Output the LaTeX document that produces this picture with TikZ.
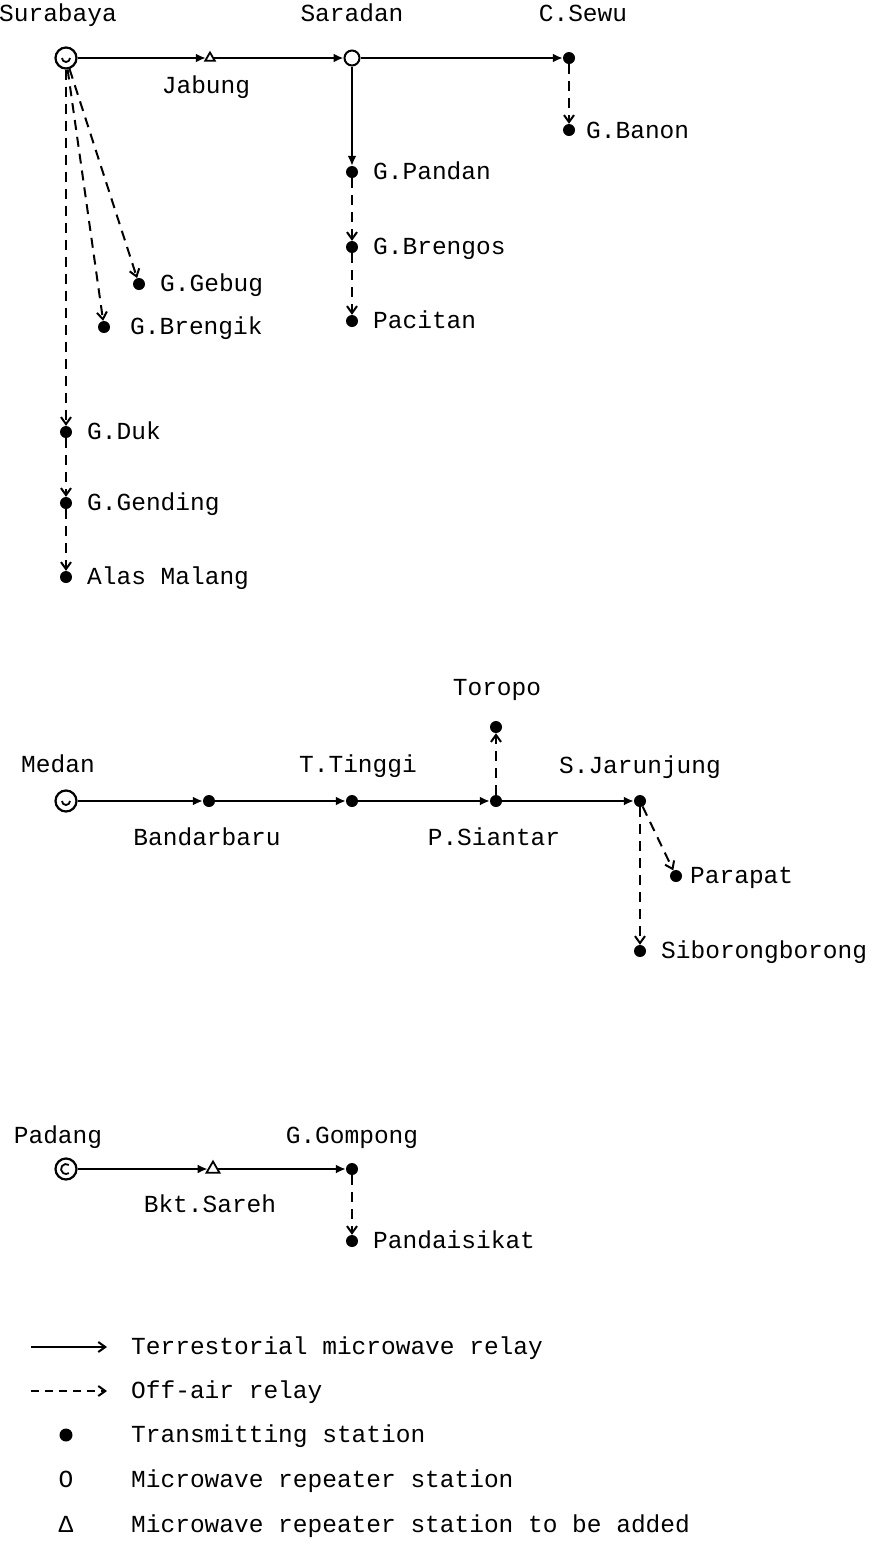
\documentclass[tikz,border=0pt]{standalone}
\usepackage{fontspec}
\setmonofont{Liberation Mono}
\usetikzlibrary{arrows.meta,shapes.geometric}
\begin{document}
\begin{tikzpicture}[x=1pt,y=-1pt,
  lbl/.style={font=\ttfamily\fontsize{24.5}{28}\selectfont, inner sep=0pt},
  lw/.style={lbl, anchor=base west},
  lc/.style={lbl, anchor=base},
  tx/.style={circle, fill=black, inner sep=0pt, minimum size=12pt},
  rep/.style={circle, draw, fill=white, line width=2pt, inner sep=0pt, minimum size=15pt},
  studio/.style={circle, draw, fill=white, line width=2.2pt, inner sep=0pt, minimum size=21pt},
  addrep/.style={regular polygon, regular polygon sides=3, draw, line width=1.8pt, inner sep=0pt, minimum size=15pt},
  mw/.style={line width=2pt, -{Latex[length=10pt,width=9pt]}},
  air/.style={line width=2pt, dash pattern=on 10pt off 7pt, -{Straight Barb[length=7pt,width=10pt,line width=2pt]}},
]
\useasboundingbox (0,0) rectangle (873,1551);

% ---------------- Surabaya network ----------------
\node[studio] (sur) at (66,58) {};
\draw[line width=1.8pt] (sur.center) ++(-4pt,0) arc[start angle=180,end angle=360,radius=4pt];
\node[addrep, minimum size=11pt] (jab) at (210,58) {};
\node[rep] (sar) at (352,58) {};
\node[tx] (cse) at (569,58) {};
\node[tx] (gba) at (569,130) {};
\node[tx] (gpa) at (352,172) {};
\node[tx] (gbr) at (352,247) {};
\node[tx] (pac) at (352,321) {};
\node[tx] (gge) at (139,284) {};
\node[tx] (gbk) at (104,327) {};
\node[tx] (gdu) at (66,432) {};
\node[tx] (gen) at (66,503) {};
\node[tx] (ala) at (66,577) {};

\node[lc] (lsur) at (58,21) {Surabaya};
\node[lc] (ljab) at (206,93) {Jabung};
\node[lc] (lsar) at (352,21) {Saradan};
\node[lc] (lcse) at (583,21) {C.Sewu};
\node[lw] (lgba) at (586,138) {G.Banon};
\node[lw] (lgpa) at (373,179) {G.Pandan};
\node[lw] (lgbr) at (373,254) {G.Brengos};
\node[lw] (lpac) at (373,328) {Pacitan};
\node[lw] (lgge) at (160,291) {G.Gebug};
\node[lw] (lgbk) at (130,334) {G.Brengik};
\node[lw] (lgdu) at (87,439) {G.Duk};
\node[lw] (lgen) at (87,510) {G.Gending};
\node[lw] (lala) at (87,584) {Alas Malang};

\draw[mw] (sur) -- (jab);
\draw[mw] (jab) -- (sar);
\draw[mw] (sar) -- (cse);
\draw[mw] (sar) -- (gpa);
\draw[air] (cse) -- (gba);
\draw[air] (gpa) -- (gbr);
\draw[air] (gbr) -- (pac);
\draw[air] (sur) -- (gge);
\draw[air] (sur) -- (gbk);
\draw[air] (sur) -- (gdu);
\draw[air] (gdu) -- (gen);
\draw[air] (gen) -- (ala);

% ---------------- Medan network ----------------
\node[studio] (med) at (66,801) {};
\draw[line width=1.8pt] (med.center) ++(-4pt,0) arc[start angle=180,end angle=360,radius=4pt];
\node[tx] (ban) at (209,801) {};
\node[tx] (tti) at (352,801) {};
\node[tx] (psi) at (496,801) {};
\node[tx] (tor) at (496,727) {};
\node[tx] (sja) at (640,801) {};
\node[tx] (par) at (676,876) {};
\node[tx] (sib) at (640,951) {};

\node[lc] (lmed) at (58,772) {Medan};
\node[lc] (lban) at (207,845) {Bandarbaru};
\node[lc] (ltti) at (358,772) {T.Tinggi};
\node[lc] (lpsi) at (494,845) {P.Siantar};
\node[lc] (ltor) at (497,695) {Toropo};
\node[lc] (lsja) at (640,773) {S.Jarunjung};
\node[lw] (lpar) at (690,883) {Parapat};
\node[lw] (lsib) at (661,958) {Siborongborong};

\draw[mw] (med) -- (ban);
\draw[mw] (ban) -- (tti);
\draw[mw] (tti) -- (psi);
\draw[mw] (psi) -- (sja);
\draw[air] (psi) -- (tor);
\draw[air] (sja) -- (par);
\draw[air] (sja) -- (sib);

% ---------------- Padang network ----------------
\node[studio] (pad) at (66,1169) {};
\draw[line width=1.8pt] (pad.center) ++(2.9pt,4.1pt) arc[start angle=55,end angle=305,radius=5pt];
\node[addrep] (bkt) at (213,1169) {};
\node[tx] (ggo) at (352,1169) {};
\node[tx] (pan) at (352,1241) {};

\node[lc] (lpad) at (58,1143) {Padang};
\node[lc] (lbkt) at (210,1212) {Bkt.Sareh};
\node[lc] (lggo) at (352,1143) {G.Gompong};
\node[lw] (lpan) at (373,1248) {Pandaisikat};

\draw[mw] (pad) -- (bkt);
\draw[mw] (bkt) -- (ggo);
\draw[air] (ggo) -- (pan);

% ---------------- Legend ----------------
\coordinate (k1a) at (31,1347);
\coordinate (k1b) at (107,1347);
\coordinate (k2a) at (31,1391);
\coordinate (k2b) at (107,1391);
\draw[line width=2pt, -{Straight Barb[length=7pt,width=10pt,line width=2pt]}] (k1a) -- (k1b);
\draw[line width=2pt, dash pattern=on 8pt off 6pt, -{Straight Barb[length=7pt,width=10pt,line width=2pt]}] (k2a) -- (k2b);
\node[tx, minimum size=13pt] (k3) at (66,1435) {};
\node[lc] (k4) at (66,1487) {O};
\node[lc] (k5) at (66,1532) {Δ};

\node[lw] (t1) at (131,1354) {Terrestorial microwave relay};
\node[lw] (t2) at (131,1398) {Off-air relay};
\node[lw] (t3) at (131,1442) {Transmitting station};
\node[lw] (t4) at (131,1487) {Microwave repeater station};
\node[lw] (t5) at (131,1532) {Microwave repeater station to be added};
\end{tikzpicture}
\end{document}
